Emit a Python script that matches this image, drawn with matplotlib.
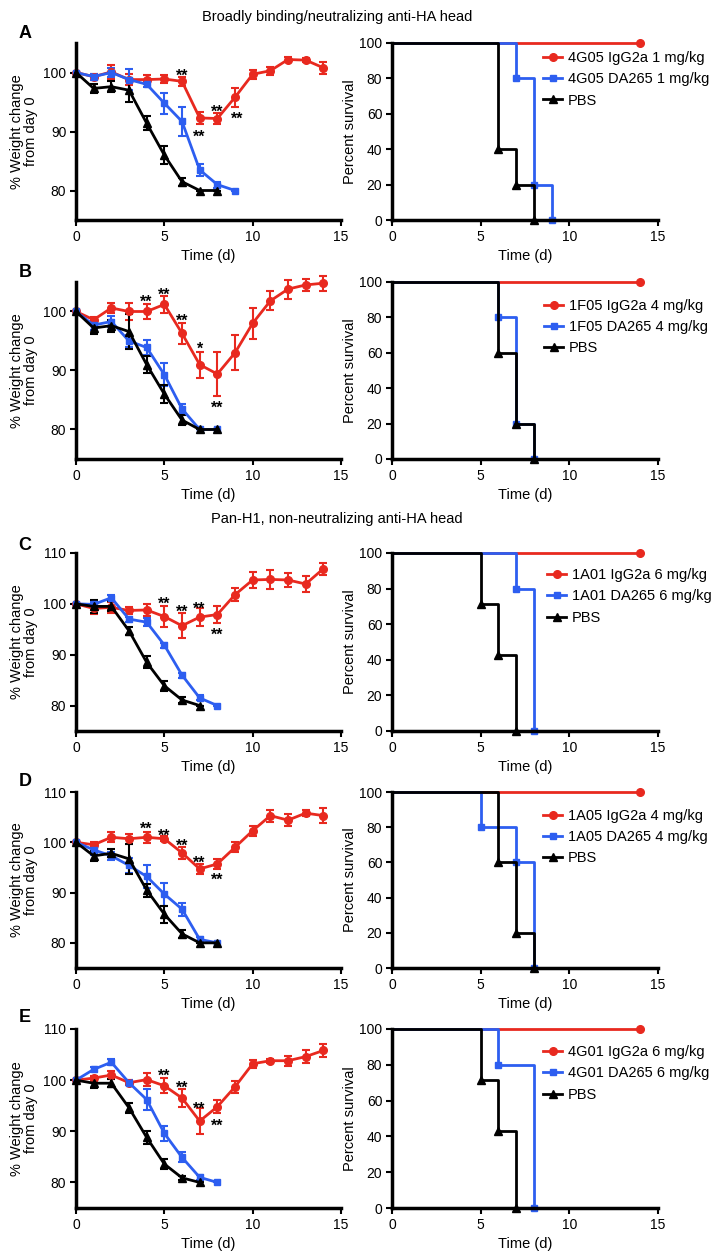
import matplotlib
matplotlib.use('Agg')
import matplotlib.pyplot as plt

plt.rcParams['font.family'] = ['Liberation Sans', 'DejaVu Sans']

RED = '#e8291f'
BLUE = '#2d5ef0'
BLACK = '#000000'

days = list(range(15))

# weight change from day 0 (%), mean and SEM
a_igg = [100, 99.3, 100.1, 98.8, 98.8, 98.9, 98.5, 92.3, 92.2, 95.8, 99.7, 100.3, 102.2, 102.1, 100.8]
a_igg_err = [0, 0.5, 1.2, 1.0, 0.8, 0.7, 0.8, 1.0, 1.0, 1.6, 0.8, 0.7, 0.5, 0.4, 1.0]
a_da = [100, 99.3, 100.0, 98.8, 98.0, 94.8, 91.7, 83.5, 81.0, 80]
a_da_err = [0, 0.5, 0.8, 1.8, 0.5, 1.8, 2.5, 1.0, 0.5, 0]
a_pbs = [100, 97.3, 97.6, 97.0, 91.4, 86.0, 81.5, 80, 80]
a_pbs_err = [0, 0.8, 0.9, 2.0, 1.2, 1.5, 0.7, 0, 0]
a_stars = [(6, 100.3, '**'), (7, 89.9, '**'), (8, 94.1, '**'), (9.1, 93.0, '**')]

b_igg = [100, 98.6, 100.6, 100.0, 100.0, 101.2, 96.3, 91.0, 89.4, 93.0, 98.0, 101.8, 103.8, 104.5, 104.8]
b_igg_err = [0, 0.5, 0.8, 1.5, 1.2, 1.5, 1.8, 2.2, 3.8, 3.0, 2.6, 1.6, 1.6, 1.0, 1.3]
b_da = [100, 97.7, 98.3, 95.0, 93.9, 89.3, 83.5, 80, 80]
b_da_err = [0, 0.8, 1.0, 1.0, 1.2, 2.0, 0.8, 0, 0]
b_pbs = [100, 97.2, 97.6, 96.6, 91.0, 86.0, 81.6, 80, 80]
b_pbs_err = [0, 1.0, 1.0, 3.0, 1.5, 1.5, 0.8, 0, 0]
b_stars = [(4, 102.4, '**'), (5, 103.7, '**'), (6, 99.3, '**'), (7, 94.4, '*'), (8, 84.5, '**')]

c_igg = [100, 99.1, 99.3, 98.7, 98.8, 97.5, 95.7, 97.4, 97.9, 101.8, 104.7, 104.8, 104.7, 103.9, 106.9]
c_igg_err = [0, 1.0, 1.0, 0.6, 1.2, 2.0, 2.5, 1.7, 1.6, 1.3, 1.5, 1.8, 1.3, 1.6, 1.2]
c_da = [100, 99.9, 101.2, 97.0, 96.4, 91.9, 86.0, 81.5, 80]
c_da_err = [0, 0.5, 0.5, 0.5, 0.8, 0.5, 0.5, 0.5, 0]
c_pbs = [100, 99.5, 99.5, 94.7, 88.5, 83.9, 81.1, 80]
c_pbs_err = [0, 1.2, 1.0, 0.8, 1.2, 1.0, 0.5, 0]
c_stars = [(5, 101.0, '**'), (6, 99.3, '**'), (7, 100.0, '**'), (8, 94.9, '**')]

d_igg = [100, 99.5, 101.0, 100.7, 101.0, 100.7, 97.9, 94.7, 95.7, 99.0, 102.3, 105.3, 104.4, 105.8, 105.3]
d_igg_err = [0, 0.5, 1.0, 1.0, 1.1, 0.5, 1.2, 1.0, 1.0, 1.0, 1.0, 1.2, 1.2, 0.6, 1.5]
d_da = [100, 98.5, 97.3, 95.4, 93.2, 89.7, 86.7, 80.7, 80]
d_da_err = [0, 1.0, 0.8, 1.5, 2.2, 2.3, 1.3, 0.5, 0]
d_pbs = [100, 97.3, 97.8, 96.7, 90.5, 85.7, 81.8, 80, 80]
d_pbs_err = [0, 1.0, 0.8, 3.0, 1.3, 1.7, 0.8, 0, 0]
d_stars = [(4, 103.6, '**'), (5, 102.3, '**'), (6, 100.3, '**'), (7, 96.8, '**'), (8, 93.5, '**')]

e_igg = [100, 100.4, 101.0, 99.5, 100.1, 98.9, 96.5, 92.0, 94.8, 98.7, 103.2, 103.8, 103.8, 104.6, 105.8]
e_igg_err = [0, 0.5, 0.8, 0.5, 1.2, 1.5, 1.8, 2.5, 1.3, 1.2, 0.8, 0.4, 1.0, 1.2, 1.3]
e_da = [100, 102.1, 103.5, 99.5, 96.2, 89.6, 84.9, 81.0, 80]
e_da_err = [0, 0.5, 0.6, 0.5, 2.0, 1.5, 1.0, 0.5, 0]
e_pbs = [100, 99.4, 99.4, 94.6, 88.8, 83.6, 80.9, 80]
e_pbs_err = [0, 1.0, 0.8, 1.0, 1.2, 1.0, 0.4, 0]
e_stars = [(5, 101.7, '**'), (6, 99.5, '**'), (7, 95.4, '**'), (8, 92.0, '**')]

# survival (%), step curves
surv_igg_t = [0, 14]
surv_igg = [100, 100]
a_surv_da_t, a_surv_da = [0, 7, 8, 9], [100, 80, 20, 0]
a_surv_pbs_t, a_surv_pbs = [0, 6, 7, 8], [100, 40, 20, 0]
b_surv_da_t, b_surv_da = [0, 6, 7, 8], [100, 80, 20, 0]
b_surv_pbs_t, b_surv_pbs = [0, 6, 7, 8], [100, 60, 20, 0]
c_surv_da_t, c_surv_da = [0, 7, 8], [100, 80, 0]
c_surv_pbs_t, c_surv_pbs = [0, 5, 6, 7], [100, 71.4, 42.9, 0]
d_surv_da_t, d_surv_da = [0, 5, 7, 8], [100, 80, 60, 0]
d_surv_pbs_t, d_surv_pbs = [0, 6, 7, 8], [100, 60, 20, 0]
e_surv_da_t, e_surv_da = [0, 6, 8], [100, 80, 0]
e_surv_pbs_t, e_surv_pbs = [0, 5, 6, 7], [100, 71.4, 42.9, 0]

a_labels = ['4G05 IgG2a 1 mg/kg', '4G05 DA265 1 mg/kg', 'PBS']
b_labels = ['1F05 IgG2a 4 mg/kg', '1F05 DA265 4 mg/kg', 'PBS']
c_labels = ['1A01 IgG2a 6 mg/kg', '1A01 DA265 6 mg/kg', 'PBS']
d_labels = ['1A05 IgG2a 4 mg/kg', '1A05 DA265 4 mg/kg', 'PBS']
e_labels = ['4G01 IgG2a 6 mg/kg', '4G01 DA265 6 mg/kg', 'PBS']

panel_letters = ['A', 'B', 'C', 'D', 'E']
section_titles = ['Broadly binding/neutralizing anti-HA head',
                  'Pan-H1, non-neutralizing anti-HA head']

panels = [
    dict(weight=[(a_igg, a_igg_err), (a_da, a_da_err), (a_pbs, a_pbs_err)], stars=a_stars,
         surv=[(a_surv_da_t, a_surv_da), (a_surv_pbs_t, a_surv_pbs)], labels=a_labels),
    dict(weight=[(b_igg, b_igg_err), (b_da, b_da_err), (b_pbs, b_pbs_err)], stars=b_stars,
         surv=[(b_surv_da_t, b_surv_da), (b_surv_pbs_t, b_surv_pbs)], labels=b_labels),
    dict(weight=[(c_igg, c_igg_err), (c_da, c_da_err), (c_pbs, c_pbs_err)], stars=c_stars,
         surv=[(c_surv_da_t, c_surv_da), (c_surv_pbs_t, c_surv_pbs)], labels=c_labels),
    dict(weight=[(d_igg, d_igg_err), (d_da, d_da_err), (d_pbs, d_pbs_err)], stars=d_stars,
         surv=[(d_surv_da_t, d_surv_da), (d_surv_pbs_t, d_surv_pbs)], labels=d_labels),
    dict(weight=[(e_igg, e_igg_err), (e_da, e_da_err), (e_pbs, e_pbs_err)], stars=e_stars,
         surv=[(e_surv_da_t, e_surv_da), (e_surv_pbs_t, e_surv_pbs)], labels=e_labels),
]

# layout in pixels of the 718x1257 canvas
W, H = 718, 1257
row_top = [43, 282, 553, 792, 1029]
row_bot = [220, 459, 731, 968, 1208]
letter_y = [33, 272, 545, 782, 1018]
legend_anchor = [(0.568, 0.955), (0.572, 0.905), (0.583, 0.915), (0.568, 0.905), (0.568, 0.91)]

styles = [(RED, 'o', 5.5), (BLUE, 's', 5.0), (BLACK, '^', 5.5)]
FS = 10.5


def style_axes(ax):
    for side in ('top', 'right'):
        ax.spines[side].set_visible(False)
    for side in ('left', 'bottom'):
        ax.spines[side].set_linewidth(2.5)
    ax.tick_params(direction='out', length=4, width=1.5, labelsize=10, pad=3)


fig = plt.figure(figsize=(W / 100, H / 100), dpi=100)

for i, p in enumerate(panels):
    bottom = 1 - row_bot[i] / H
    height = (row_bot[i] - row_top[i]) / H

    # weight curves
    ax = fig.add_axes([76 / W, bottom, (341 - 76) / W, height])
    for (vals, err), (col, mk, ms) in zip(p['weight'], styles):
        ax.errorbar(days[:len(vals)], vals, yerr=err, color=col, marker=mk, ms=ms, lw=2,
                    elinewidth=1.5, capsize=3, capthick=1.5, clip_on=False)
    for day, y, txt in p['stars']:
        ax.annotate(txt, (day, y), xytext=(0, -7), textcoords='offset points',
                    ha='center', va='baseline', fontsize=11.5, fontweight='bold')
    ax.set_xlim(0, 15)
    ax.set_xticks([0, 5, 10, 15])
    if i < 2:
        ax.set_ylim(75, 105)
        ax.set_yticks([80, 90, 100])
    else:
        ax.set_ylim(75, 110)
        ax.set_yticks([80, 90, 100, 110])
    ax.set_xlabel('Time (d)', fontsize=FS, labelpad=4)
    ax.set_ylabel('% Weight change\nfrom day 0', fontsize=FS, linespacing=1.0)
    ax.yaxis.set_label_coords(-0.145, 0.5)
    style_axes(ax)

    # survival curves
    ax2 = fig.add_axes([392 / W, bottom, (658 - 392) / W, height])
    ax2.plot(surv_igg_t, surv_igg, color=RED, marker='o', ms=5.5, lw=2,
             drawstyle='steps-post', markevery=[1], clip_on=False, label=p['labels'][0])
    for (t, s), (col, mk, ms), lab in zip(p['surv'], styles[1:], p['labels'][1:]):
        ax2.plot(t, s, color=col, marker=mk, ms=ms, lw=2, drawstyle='steps-post',
                 markevery=slice(1, None), clip_on=False, label=lab)
    ax2.set_xlim(0, 15)
    ax2.set_ylim(0, 100)
    ax2.set_xticks([0, 5, 10, 15])
    ax2.set_yticks([0, 20, 40, 60, 80, 100])
    ax2.set_xlabel('Time (d)', fontsize=FS, labelpad=4)
    ax2.set_ylabel('Percent survival', fontsize=FS)
    ax2.yaxis.set_label_coords(-0.13, 0.5)
    style_axes(ax2)
    ax2.legend(loc='upper left', bbox_to_anchor=legend_anchor[i], frameon=False, fontsize=FS,
               handlelength=1.3, handletextpad=0.4, labelspacing=0.5, borderpad=0,
               borderaxespad=0)

    fig.text(25 / W, 1 - letter_y[i] / H, panel_letters[i],
             fontsize=13, fontweight='bold', ha='center', va='center')

fig.text(337 / W, 1 - 17 / H, section_titles[0], fontsize=FS, ha='center', va='center')
fig.text(337 / W, 1 - 519 / H, section_titles[1], fontsize=FS, ha='center', va='center')

fig.savefig('out.png', dpi=100)
